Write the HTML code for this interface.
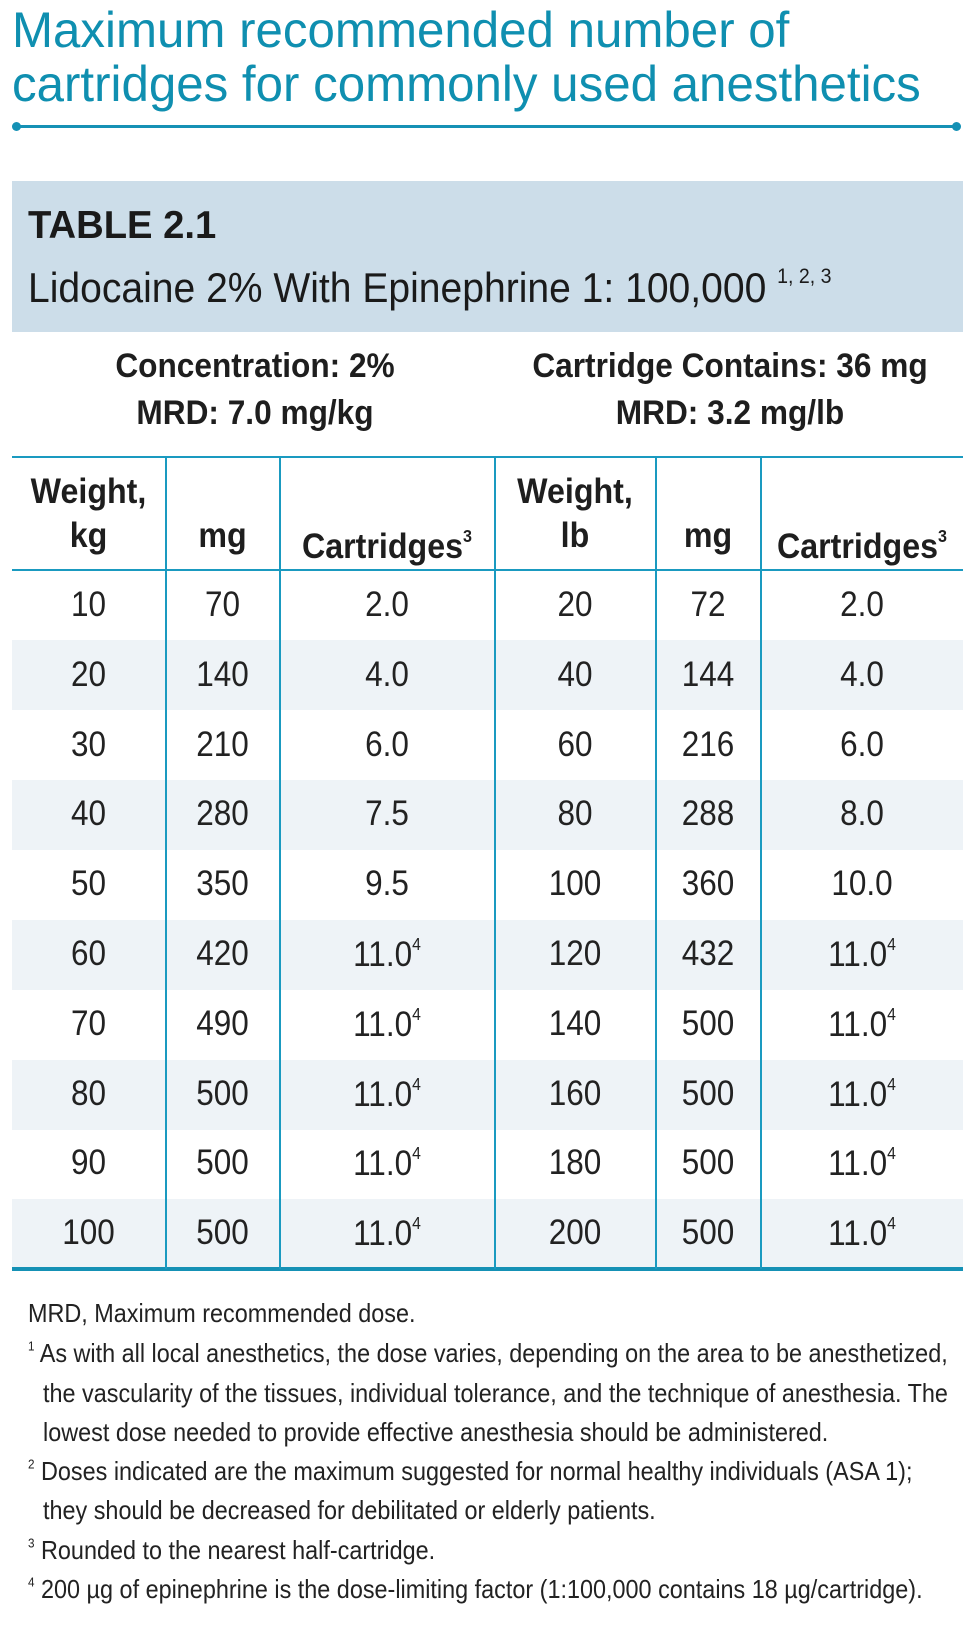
<!DOCTYPE html>
<html><head><meta charset="utf-8"><style>
body{margin:0;width:973px;height:1628px;background:#fff;position:relative;overflow:hidden;font-family:"Liberation Sans",sans-serif;color:#1e1e1e}
.t{position:absolute;white-space:nowrap;transform-origin:left center}
.c{position:absolute;white-space:nowrap;text-align:center;transform-origin:center center}
.title{color:#0f8fb0;font-size:50px;transform:scaleX(0.985)}
.row{position:absolute;left:12px;width:951px;height:70px}
.vl{position:absolute;top:457px;width:2px;height:812px;background:#1a9ac0}
.num{font-size:35px;transform:scaleX(0.9);color:#222}
.hd{font-size:35px;font-weight:bold;transform:scaleX(0.92);line-height:44px}
.fn{font-size:26px;transform:scaleX(0.9);color:#222}
sup{font-size:0.5em;vertical-align:0.9em}
</style></head><body>
<div class="t title" style="left:12px;top:1px">Maximum recommended number of</div>
<div class="t title" style="left:12px;top:55px">cartridges for commonly used anesthetics</div>
<div style="position:absolute;left:16px;top:125px;width:940px;height:3px;background:#1591b5"></div>
<div style="position:absolute;left:12px;top:122px;width:9px;height:9px;border-radius:50%;background:#1591b5"></div>
<div style="position:absolute;left:952px;top:122px;width:9px;height:9px;border-radius:50%;background:#1591b5"></div>

<div style="position:absolute;left:12px;top:181px;width:951px;height:151px;background:#ccdde9"></div>
<div class="t" style="left:28px;top:204px;font-size:39px;font-weight:900;transform:scaleX(0.98);color:#1a1a1a">TABLE 2.1</div>
<div class="t" style="left:28px;top:264px;font-size:42px;transform:scaleX(0.93);color:#1a1a1a">Lidocaine 2% With Epinephrine 1: 100,000 <sup>1, 2, 3</sup></div>

<div class="c" style="left:55px;width:400px;top:347px;font-size:34px;font-weight:bold;transform:scaleX(0.93)">Concentration: 2%</div>
<div class="c" style="left:55px;width:400px;top:394px;font-size:34px;font-weight:bold;transform:scaleX(0.93)">MRD: 7.0 mg/kg</div>
<div class="c" style="left:500px;width:460px;top:347px;font-size:34px;font-weight:bold;transform:scaleX(0.93)">Cartridge Contains: 36 mg</div>
<div class="c" style="left:500px;width:460px;top:394px;font-size:34px;font-weight:bold;transform:scaleX(0.93)">MRD: 3.2 mg/lb</div>

<div style="position:absolute;left:12px;top:456px;width:951px;height:2px;background:#1a9ac0"></div>
<div style="position:absolute;left:12px;top:569px;width:951px;height:2px;background:#1a9ac0"></div>

<div class="row" style="top:640px;background:#eef3f7"></div>
<div class="row" style="top:780px;background:#eef3f7"></div>
<div class="row" style="top:920px;background:#eef3f7"></div>
<div class="row" style="top:1060px;background:#eef3f7"></div>
<div class="row" style="top:1199px;background:#eef3f7"></div>
<div style="position:absolute;left:12px;top:1267px;width:951px;height:4px;background:#1591b5"></div>

<div class="vl" style="left:165px"></div>
<div class="vl" style="left:279px"></div>
<div class="vl" style="left:494px"></div>
<div class="vl" style="left:655px"></div>
<div class="vl" style="left:760px"></div>

<div class="c hd" style="left:12px;width:153px;top:470px">Weight,<br>kg</div>
<div class="c hd" style="left:166px;width:113px;top:514px">mg</div>
<div class="c hd" style="left:280px;width:214px;top:514px">Cartridges<sup>3</sup></div>
<div class="c hd" style="left:495px;width:160px;top:470px">Weight,<br>lb</div>
<div class="c hd" style="left:656px;width:104px;top:514px">mg</div>
<div class="c hd" style="left:761px;width:202px;top:514px">Cartridges<sup>3</sup></div>

<div id="rows"></div>
<script>
var d=[["10","70","2.0","20","72","2.0"],["20","140","4.0","40","144","4.0"],["30","210","6.0","60","216","6.0"],["40","280","7.5","80","288","8.0"],["50","350","9.5","100","360","10.0"],["60","420","11.0<sup>4</sup>","120","432","11.0<sup>4</sup>"],["70","490","11.0<sup>4</sup>","140","500","11.0<sup>4</sup>"],["80","500","11.0<sup>4</sup>","160","500","11.0<sup>4</sup>"],["90","500","11.0<sup>4</sup>","180","500","11.0<sup>4</sup>"],["100","500","11.0<sup>4</sup>","200","500","11.0<sup>4</sup>"]];
var cols=[[12,153],[166,113],[280,214],[495,160],[656,104],[761,202]];
var h="";
for(var i=0;i<10;i++){var yy=Math.round(571+i*69.8+14);for(var j=0;j<6;j++){h+='<div class="c num" style="left:'+cols[j][0]+'px;width:'+cols[j][1]+'px;top:'+yy+'px">'+d[i][j]+'</div>';}}
document.getElementById("rows").innerHTML=h;
</script>

<div class="t fn" style="left:28px;top:1298px">MRD, Maximum recommended dose.</div>
<div class="t fn" style="left:28px;top:1338px"><sup>1</sup> As with all local anesthetics, the dose varies, depending on the area to be anesthetized,</div>
<div class="t fn" style="left:43px;top:1378px">the vascularity of the tissues, individual tolerance, and the technique of anesthesia. The</div>
<div class="t fn" style="left:43px;top:1417px">lowest dose needed to provide effective anesthesia should be administered.</div>
<div class="t fn" style="left:28px;top:1456px"><sup>2</sup> Doses indicated are the maximum suggested for normal healthy individuals (ASA 1);</div>
<div class="t fn" style="left:43px;top:1495px">they should be decreased for debilitated or elderly patients.</div>
<div class="t fn" style="left:28px;top:1535px"><sup>3</sup> Rounded to the nearest half-cartridge.</div>
<div class="t fn" style="left:28px;top:1574px"><sup>4</sup> 200 µg of epinephrine is the dose-limiting factor (1:100,000 contains 18 µg/cartridge).</div>
</body></html>
